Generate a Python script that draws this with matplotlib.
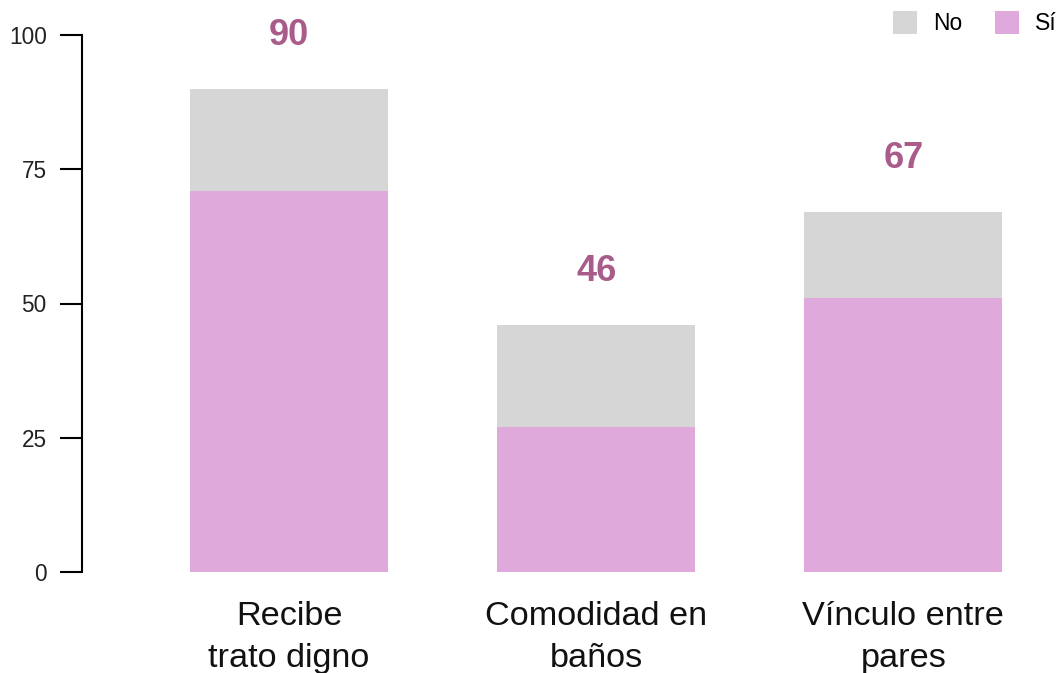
import matplotlib.pyplot as plt
from matplotlib.patches import Patch

# data
categories = ['Recibe\ntrato digno', 'Comodidad en\nbaños', 'Vínculo entre\npares']
si_values = [71, 27, 51]
totals = [90, 46, 67]
no_values = [t - s for t, s in zip(totals, si_values)]
y_ticks = [0, 25, 50, 75, 100]

plt.rcParams['font.family'] = ['Liberation Sans', 'DejaVu Sans']

gray = '#D6D6D6'
pink = '#E0A9DB'
label_color = '#A95C8A'

fig = plt.figure(figsize=(10.57, 6.73), dpi=100)
ax = fig.add_axes([82 / 1057, 101 / 673, 1 - 82 / 1057, 537 / 673])

x = list(range(len(categories)))
ax.bar(x, si_values, width=0.645, color=pink, label='Sí')
ax.bar(x, no_values, bottom=si_values, width=0.645, color=gray, label='No')

# total labels above each bar
for xi, t in zip(x, totals):
    ax.text(xi, t + 8.2, str(t), ha='center', va='baseline', color=label_color,
            fontsize=26, fontweight='bold')

ax.set_xlim(-0.674, 2.5)
ax.set_ylim(0, 100)
ax.set_yticks(y_ticks)
ax.set_yticklabels([str(v) for v in y_ticks], fontsize=16.3, color='#222222')
ax.set_xticks(x)
ax.set_xticklabels(categories, fontsize=24.7, color='#111111', linespacing=1.45)
ax.tick_params(axis='x', length=0, pad=21)
ax.tick_params(axis='y', length=16, width=1.5, pad=9.4)

for side in ['top', 'right', 'bottom']:
    ax.spines[side].set_visible(False)
ax.spines['left'].set_linewidth(1.5)
ax.spines['left'].set_bounds(0, 100)

handles = [Patch(facecolor=gray, label='No'), Patch(facecolor=pink, label='Sí')]
fig.legend(handles=handles, loc='upper left', bbox_to_anchor=(893 / 1057, 1 - 11 / 673),
           ncol=2, frameon=False, fontsize=16.5, handlelength=1.05, handleheight=1.15,
           handletextpad=0.7, columnspacing=1.43, borderpad=0, borderaxespad=0)

fig.savefig('out.png', dpi=100)
